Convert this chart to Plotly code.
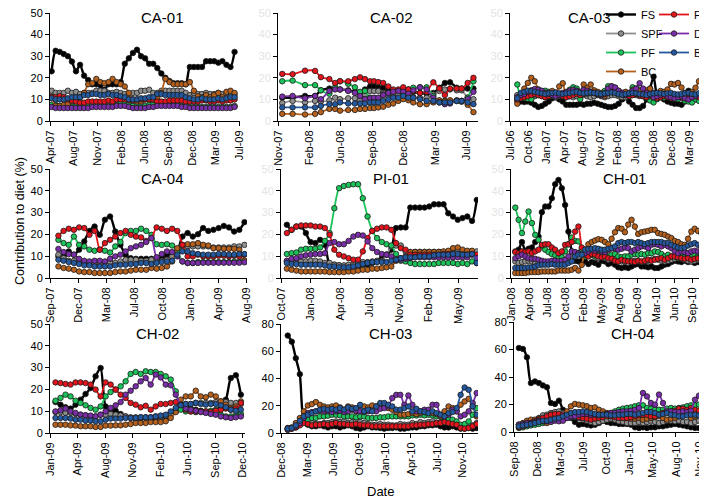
import pandas as pd
import plotly.graph_objects as go

W, H = 707, 501
FONT = "Liberation Sans, Arial, sans-serif"

SERIES_ORDER = ["FS", "SPF", "PF", "BC", "PC", "DF", "BF"]
COLORS = {"FS": "#000000", "SPF": "#8f8f8f", "PF": "#1cc35a", "BC": "#b5601c",
          "PC": "#e3141c", "DF": "#7a2fa8", "BF": "#2459a0"}
LEGEND_GROUP = {"FS": "g1", "SPF": "g1", "PF": "g1", "BC": "g1",
                "PC": "g2", "DF": "g2", "BF": "g2"}

# ---------------- CA-01 ----------------
ca01_ticks = ["Apr-07", "Aug-07", "Nov-07", "Feb-08", "Jun-08", "Sep-08", "Dec-08", "Mar-09", "Jul-09"]
ca01_tick_span = ("2007-04-01", "2009-07-15")
ca01_dates = ("2007-04-08", "2009-06-23")
ca01_FS = [23,32.5,32,31,30,27.5,23,26,21,19,17,17,16.5,14.5,17,17,17,18,26.5,29,31.5,33,30,29,26.5,26.5,24.5,22,20,18.5,17.5,17.5,17.5,17,25,25,25,25,27.7,27.7,27.7,27,27.7,26,25,32]
ca01_BC = [11.3,7,7,7.5,8,9,10,11,13,17,17.5,19.5,18,17.5,18,19.5,18,17,16,13,10,9,9,10,10,10,11,13,19.5,18,17,17,17,17,18,14,11.5,11,12,11,12,13,11,13.5,14,13]
ca01_SPF = [14,13,13,13,14,13,13.5,12.5,13,13,13,14,14,14,13,13,13.5,13,12.5,12.5,13,13,14,14,14.5,13,13,14,14,14,14,14,14,13,12,13,12.5,12.5,13,12.5,12.5,13,12.5,13,13,12]
ca01_BF = [10.5,10,10,10,10.5,11,11,11,12,12,12.5,12.5,12,12,12.5,12,12,11.5,11,10,10,10,10.5,10.5,11,11,12.5,12.5,12,12,12,12,12,11,10.5,10,10,10.5,10,10,10,10.5,10,10.5,11,11]
ca01_PC = [11,11,11.5,11,10,9.5,9,8.5,8.5,9,9,9,9,9,9.5,9,10,10,10,9.5,9.5,10,10,10,10,10,9,9,9,9.5,9.5,9.5,9.5,9,9,9,9,9.5,9.5,9,9,9.5,9,9.5,9.5,10]
ca01_PF = [7.5,7.5,7,7,7,7,7,7,7,7,7.5,7.5,7.5,7,7,7,7.5,8,8,7.5,7,7,7,7,7.5,7.5,8,8,7.5,7.5,7.5,7.5,7,7,6.5,6.5,6.5,6.5,6.5,6.5,6.5,6.5,6.5,6.5,6.5,7]
ca01_DF = [6.5,6,6,6,6,6,6,6,6,6,6.5,6.5,6.5,6.5,6.5,6.5,7,7,7,6.5,6,6,6,6,6.5,6.5,7,7,7,7,7,7,6.5,6.5,6,6,6,6,6,6,6,6,6,6,6,6.5]

# ---------------- CA-02 ----------------
ca02_ticks = ["Nov-07", "Feb-08", "Jun-08", "Sep-08", "Dec-08", "Mar-09", "Jul-09"]
ca02_tick_span = ("2007-11-01", "2009-07-13")
ca02_dates = ["2007-11-15","2007-12-19","2008-01-29","2008-03-02","2008-03-21","2008-04-18","2008-05-07","2008-05-23",
              "2008-06-19","2008-07-11","2008-07-28","2008-08-13","2008-08-30","2008-09-12","2008-09-26","2008-10-12",
              "2008-10-29","2008-11-14","2008-12-01","2008-12-17","2009-01-03","2009-01-19","2009-02-10","2009-03-04",
              "2009-03-26","2009-04-15","2009-05-03","2009-05-20","2009-06-11","2009-06-27","2009-07-17","2009-08-05"]
ca02_PC = [21.8,21.7,23.3,23.2,20.3,19.4,17.6,18.4,18.4,19.4,20.2,19.4,18.4,18.4,18,17.6,16,14.6,14.6,15.6,14.6,13.9,13,13.5,17.9,15,12,15,15,15,17.6,20]
ca02_PF = [18.4,18.7,16.6,16.6,14.2,12.6,15.6,18.4,17.2,15.6,13.5,13.9,10.8,10.5,10.5,12.3,13,13.9,14.2,12.6,13.9,15.4,15.6,15.6,11.6,9.3,9.3,9.3,9.3,8.9,10.8,18.4]
ca02_FS = [10.8,10.8,11.6,11.6,14.2,15,15,14.6,14.2,13.5,13,14.6,16,16,15.6,15.4,14.2,13.9,13.9,14.6,14.6,13.5,13,12.6,13,15.4,17.6,17.9,15.4,15,15,15]
ca02_DF = [11.3,11.6,10.5,11.6,10.1,13.9,14.6,14.6,13.9,13,11.6,10.1,10.5,10.8,10.8,12,13,13.5,13.9,13.5,12.6,14.2,15.6,14.6,10.8,8.6,7.8,8.1,9.3,9.3,10.1,13.5]
ca02_SPF = [8.3,9.3,8.6,9.3,9,9.6,10.8,10.1,10.5,10.5,9.6,12.3,13.9,13.9,13.9,13,11.6,11.6,12.3,12.3,11.6,11.1,10.8,10.8,12.3,13.9,14.6,14.6,14.2,14.2,10.8,10.1]
ca02_BF = [6.3,6.3,6.3,6.3,7,7.8,7.8,8.6,8.1,8.1,8.1,8.1,8.6,8.6,8.6,9.3,10.1,10.8,10.8,11.6,10.8,10.8,10.1,9.3,9.3,8.6,8.6,8.6,9.3,9.3,8.6,7.8]
ca02_BC = [3.3,3.3,3,3.3,4.1,5.6,5.6,4.8,5.1,5.1,5.6,5.6,6,6,6.3,6.6,7.5,8.1,9.3,10.1,9.6,8.6,7.8,7.8,8.6,9.6,9.3,9.6,9.6,9.3,7.5,4.1]

# ---------------- CA-03 ----------------
ca03_ticks = ["Jul-06", "Oct-06", "Jan-07", "Apr-07", "Aug-07", "Nov-07", "Feb-08", "Jun-08", "Sep-08", "Dec-08", "Mar-09", "Jul-09"]
ca03_tick_span = ("2006-07-01", "2009-07-15")
ca03_dates = ("2006-08-11", "2009-07-24")
ca03_FS = [9.3,9,8.8,9,8.5,7.5,6.5,7,8,9,10.5,11,10,9,7.5,7.5,7.5,7.5,8,7.5,8,8,8.5,8,7.5,7,6.5,6.5,7,8,10,11,9,7.5,6,6,7,10,15,20.5,12,11,10,9,8.5,8,8,7.5,9,14,13,10,12,11,12,12]
ca03_BC = [8,11.6,15,17.6,20,18.4,14.6,11.6,11,13,13.9,13,16,17.5,11,12,13.9,13.9,13,16.9,15.4,16.9,14.2,13.5,12.5,11.6,14.6,16.1,15.4,13.9,12.3,13.5,13,14.5,15,13.9,12.3,14.2,15,13,12.3,13.9,13.5,14.6,17.2,16.9,17.6,15.5,13,12.3,13.5,15.4,18.4,17.2,15.4,15]
ca03_PF = [16.9,10.8,10.5,10.3,10.1,12.3,13.9,13.5,14,13.5,11.6,12.3,12,12.5,13,14.5,15.6,15,10.1,13,12.6,13,13.5,12.3,13,13.9,16.1,15.6,14.6,12.3,13,12,11.6,15.6,14.6,14.4,14.2,10.8,9.5,8.6,10.1,12,10.8,13,10.5,10.3,10.1,10.8,9.3,9,8.6,10.1,9.3,10,10.8,11]
ca03_BF = [10.5,13,13.5,14,13.8,13.5,13.2,12.8,12.5,12.8,13,13.2,12.8,12.5,12.8,13,13.3,13.5,13,12.8,13,13.2,13,12.8,12.5,12.8,13,13.2,13,12.5,12.2,12.5,12.8,13,12.8,12.5,12.3,12,12.5,12.8,13,12.8,12.5,12.8,13,12.5,12.3,12.5,12.8,13,12.5,12.3,12.8,13,12.8,13]
ca03_DF = [11,12,12.5,13.5,14.2,14.8,14.5,14,13,12.5,12,11.5,12,13,13.5,14,14.5,14,13.5,14.5,14,13.5,13,12.5,12,13,15,16,15.5,14,13,12,12.5,14,15,17.5,15,13,12,11,11.5,12,12.5,11.5,11,10.5,11,11.5,10.5,10,11,11.5,12,12.5,12,12]
ca03_SPF = [12,12.5,12,11.5,11,11.5,12,12,12.5,12,11.5,11,11.5,12,12,11.5,11,11.5,12,12,11.5,11,11.5,12,11.5,11,11.5,12,12,11.5,11,11,11.5,12,12,11.5,11.5,12,12,11.5,11,11.5,12,11.5,11,11.5,12,11.5,11,11.5,12,11.5,11,11.5,12,12]
ca03_PC = [10,10.5,11,11.5,12,12.5,12,11.5,11,11.5,12,12.5,12,11.5,11,11.5,12,12.5,12,12.5,13,13.5,13,12.5,12,12.5,13,14,14.5,13.5,12.5,12,11.5,12,12.5,12,11.5,11,11.5,11,10.5,11,11.5,11,10.5,11,11.5,11,10.5,10.5,11,11.5,11,11.5,12,12]

# ---------------- CA-04 ----------------
ca04_ticks = ["Sep-07", "Dec-07", "Mar-08", "Jul-08", "Oct-08", "Jan-09", "Apr-09", "Aug-09"]
ca04_tick_span = ("2007-09-01", "2009-08-01")
ca04_dates = ("2007-10-01", "2009-07-26")
ca04_PC = [19.4,21.6,22.6,22.1,23.2,22.9,19.8,21.6,13,16,17.5,19,20.6,21.6,19.8,19,18.6,17,18.3,23.2,22.6,21.6,22.6,21.6,15.2,9.9,9.9,10.7,9.9,9.9,9.9,10.2,10.2,9.9,10.2,9.9,10.7]
ca04_FS = [9.9,9.9,12.2,10.7,13,16.8,21.6,23.6,19.8,26.7,28.2,21.3,15.2,10.7,9.1,8.8,8.8,8.8,8.8,8.8,9.1,10.7,10.7,12.2,19,20.6,19,20.1,22.9,21.6,22.1,22.9,23.9,23.2,21.3,22.1,25.6]
ca04_PF = [17.5,16,15.2,19,15.2,14.5,13,12.5,13,12.5,11.7,14.5,16.5,20.6,21.6,21.6,22.6,21.6,19.8,15.5,15.2,15.5,14.9,12.2,7.6,6.9,6.9,7.3,7.3,7.3,7.3,7.3,7.3,7.3,7.5,7.5,7.8]
ca04_DF = [13.3,11.9,11,10.7,8.8,7.9,7.6,7.9,7.9,7.6,8.8,9.9,10.7,12.2,13.7,14.5,15.2,16.5,18.3,9.5,11,12.2,11.9,9.9,7.6,6.9,6.9,6.9,7,7,7,7,7,7,7,7,7.2]
ca04_SPF = [10.7,9.1,7.9,7.9,7.3,6.9,6.9,6.9,6.9,7.3,7.3,6.9,7.6,8.4,8.4,8.4,7.9,7.9,8.4,7.9,7.9,8.4,9.9,12.2,14.5,14.5,14.5,14.5,14.5,14.5,14,14,14,14,14.5,14.5,15.2]
ca04_BF = [8.4,7.9,7.3,6.9,6.4,5.8,5.8,5.3,5.3,5.3,5.3,5.8,6.1,6.1,6.4,6.4,6.9,6.9,6.4,6.9,7.3,7.6,7.9,10.7,12.2,12.2,11.4,11,10.7,10.7,10.7,11,11,10.7,10.7,11,11]
ca04_BC = [5.3,4.6,4.3,3.8,3,2.7,2.7,2.3,2.3,2.3,2.3,2.7,3,3,3.4,3.8,3.8,3.8,4.6,4.3,4.6,5.3,7.6,13.7,15.2,15.5,15.5,16,15.2,14.9,13.7,13.7,13.4,13.4,13.4,13,8]

# ---------------- PI-01 ----------------
pi01_ticks = ["Oct-07", "Jan-08", "Apr-08", "Jul-08", "Nov-08", "Feb-09", "May-09"]
pi01_tick_span = ("2007-10-01", "2009-04-28")
pi01_dates = ("2007-10-20", "2009-06-27")
pi01_PF = [11,11.4,11.7,13,13.4,13.4,13.4,14,17,20.6,32,41.2,42.2,42.7,43,43,36.6,28.2,21.6,18.3,16.5,15.5,14.9,11,7.9,7.6,6.9,6.4,6.4,6.4,6.4,6.4,6.9,6.9,6.9,6.9,6.4,6.9,6.4,7.6,6.9]
pi01_PC = [20.6,22.1,23.6,24.1,24.1,24.1,23.6,23.6,22.9,19.8,13,10.7,9.9,9.1,8.4,8.4,12.2,18.3,21.6,22.6,23.2,23.2,22.1,16,13.7,13,10.7,10.7,10.7,10.7,10.7,10.7,10.7,11,11,11,10.7,10.7,10.7,11,10.7]
pi01_FS = [24.4,22.1,23.6,23.6,20.6,16.5,16,17.5,15.2,6.1,6.1,5.8,5.3,5.3,5.3,5.3,6.1,6.1,6.9,7.6,9.1,10.7,13,22.9,23.2,23.2,32.3,32.3,32.3,32.3,32.8,33.8,33.8,33.8,29.7,28.2,26.7,27.5,28.2,26.2,35.8]
pi01_DF = [7.9,8.8,9.1,9.9,10.4,10.7,11,11,11.4,16,16.5,15.5,15.5,17,19,19.8,19.5,16.8,13.7,11.9,11,10.7,9.9,8.4,8.4,8.8,9.1,9.5,9.5,9.5,9.5,9.5,9.5,9.5,9.5,9.5,9.5,9.5,9.5,10.7,9.1]
pi01_SPF = [7.6,7.3,7.3,7.6,7.6,7.9,7.9,7.6,6.9,6.9,6.1,5.8,5.8,6.1,6.4,6.9,7.3,7.3,7.6,7.9,7.9,10.7,14.5,14.9,14.9,12.2,11.9,12,12,12,12,12,12,12,12,12,12,12,12,12,12.2]
pi01_BF = [6.9,6.4,6.4,6.1,6.1,6.1,6.1,6.1,5.8,5.3,5.3,4.9,4.9,4.9,5.3,5.8,6.4,6.9,7.3,7.3,7.3,7.3,7.9,8.4,9.1,9.5,9.5,9.5,9.9,9.9,9.9,10.4,10.7,10.7,10.7,11,11,10.7,10.7,11,6.9]
pi01_BC = [4.3,3.8,3.4,3,3,3,3,3,3,2.7,2.7,2.7,2.7,3,3,3.4,3.8,3.8,4.3,4.3,4.6,4.9,5.3,7.9,9.1,9.9,11.9,11.9,11.9,11.9,11.9,11.9,11.9,12.2,12.5,13.7,14,13,12.5,12.5,6.9]

# ---------------- CH-01 ----------------
ch01_ticks = ["Jan-08", "Apr-08", "Jul-08", "Oct-08", "Feb-09", "May-09", "Aug-09", "Dec-09", "Mar-10", "Jun-10", "Sep-10"]
ch01_tick_span = ("2008-01-01", "2010-08-29")
ch01_dates = ("2008-01-24", "2010-12-09")
ch01_PF = [32.3,26.7,20.6,25.9,30.5,25.2,19.8,17.5,14.5,13,11.9,11,10.4,9.1,9.5,12.2,15.5,18.6,17,16.8,13,9.9,10.7,10.7,9.9,10.7,10.4,10.7,9.9,10.7,11,9.9,9.5,9.9,9.9,10.7,11,10.7,11,10.7,11.4,11.4,12.2,11.9,11,9.9,10.7,9.9,9.9,9.1,9.9,9.5,10.7,9.9,10.7,9.9,10.7,9.9,10.4,10.7]
ch01_FS = [12.2,13,16.5,12.5,13.4,14,16.5,19,30.2,32.8,32.8,36.6,43,45,41.2,33.5,21.3,12.2,7.9,7.6,7.9,7.6,6.4,7.3,6.9,6.1,7.9,7.6,6.4,6.9,6.1,4.9,4.6,4.9,4.6,5.3,6.1,6.4,5.3,5.3,4.9,5.3,4.6,4.6,5.3,6.1,6.4,7.3,7.9,7.6,7.3,7.9,7.3,7.6,6.9,7.3,6.9,7.6,7.3,7.6]
ch01_PC = [11.9,11.4,12.2,11.9,12.2,11.4,12.2,13,15.2,15.5,15.5,14,13,11.4,12.2,15.2,15.5,16.5,21.3,23.6,14,10.7,9.9,11,10.7,9.9,9.5,9.9,9.1,8.8,7.9,7.6,8.4,7.9,7.6,7.6,7.3,7.9,7.6,7.9,8.4,7.9,8.4,8.8,9.1,8.4,9.1,9.9,9.9,9.5,9.1,8.8,9.1,8.4,8.8,9.1,9.5,9.1,9.9,9.5]
ch01_DF = [9.1,9.9,10.7,9.9,9.1,8.8,8.8,8.4,7.9,7.6,7.6,7.9,7.9,7.6,7.9,8.4,9.9,12.2,11.9,11.4,10.7,11.4,12.2,13,12.5,13,12.2,11.9,13,13.7,13.4,13,13.4,14,13.7,12.2,13,13.7,14.5,14.5,13.7,15.2,15.5,15.2,14.5,15.2,14.5,13.7,12.2,11.4,12.2,11.9,11.4,12.2,12.5,12.2,11.9,12.2,12.5,12.2]
ch01_BF = [4.6,4.6,4.6,4.6,4.9,4.9,5.3,5.8,6.1,6.1,6.1,6.4,6.1,6.1,6.1,6.1,6.9,7.6,9.9,10.7,10.7,13,13.3,13.4,13.7,13.4,13,13,13.4,13.7,14.5,16,16.5,16,16.5,16.5,16,16.5,16,15.5,16,16.5,16.5,16.5,16.5,16,16,15.2,14.5,14,13.7,14,14.9,15.5,16,15.2,14.5,14,14.5,14.9]
ch01_SPF = [7.6,6.9,7.3,7.6,7.9,7.6,6.9,6.9,7.3,6.9,6.9,7.3,7.3,7.3,7.6,7.9,8.4,9.9,10.7,11.4,12.2,12.2,11.4,10.7,9.9,9.1,9.9,9.1,8.4,9.1,7.9,8.4,7.6,7.3,7.9,7.6,7.9,7.6,7.3,7.6,7.9,8.4,8.8,8.4,7.9,7.6,7.9,8.4,8.8,9.1,8.8,8.4,7.9,7.6,7.9,8.4,7.9,8.4,8.8,8.4]
ch01_BC = [2.3,2.3,2.3,2.3,2.6,2.7,2.7,2.7,3,3,3,3,3,3.4,3.4,3.4,3.4,3.8,4.6,3.4,6,13,15.5,16.5,17.2,17.8,17.5,16.5,15.5,18,21,22.9,22.6,21,24.5,26.7,23.6,20.2,21,21.3,21.6,22.1,22.1,20.6,20.2,19.8,19,18.3,17,16.5,15.5,15.2,18,21.3,22.6,21.6,20.6,20.6,20,19.8]

# ---------------- CH-02 ----------------
ch02_ticks = ["Jan-09", "Apr-09", "Aug-09", "Nov-09", "Feb-10", "Jun-10", "Sep-10", "Dec-10"]
ch02_tick_span = ("2009-01-01", "2010-12-01")
ch02_dates = ("2009-01-21", "2010-11-25")
ch02_PC = [23.2,22.9,22.5,22.2,23.2,23.2,22.9,22.2,19.9,16.8,23.2,22.2,19.9,17.6,16.1,13.8,13,11.8,12.5,10.7,12.2,13.3,13.3,13.8,14.2,13,10.7,9.9,9.9,9.9,9.9,9.6,10.2,10.7,11.2,10.7,11.2,13.8]
ch02_FS = [14.2,13,11.8,11.2,13,15.3,17.9,20.6,26,29.8,12.2,10.7,10.2,8.7,7.6,6.9,6.6,6.6,6.9,6.6,6.9,7.2,7.6,8.4,9.9,11.5,12.2,11.2,10.7,10.2,9.6,9.2,8.7,13,15.3,25.2,26.5,17.6]
ch02_PF = [14.8,16.1,17.6,16.8,14.8,13.8,12.7,11.5,10.7,12.2,16.8,18.8,19.9,21.4,23.7,27.1,28,27.1,28.3,28,28,27.1,26,24.5,19.1,10.7,9.9,9.9,9.6,9.9,9.9,10.2,10.7,8.4,7.6,7.6,8.1,8.7]
ch02_DF = [9.9,10.4,11.2,9.9,9.2,8.4,8.1,8,7.6,8.4,9.9,11.5,12.7,14.2,17.6,19.4,21.4,23.7,25.2,22.2,26.8,25.5,22.2,21.9,17.6,13,11.2,10.7,10.2,9.6,9.2,8.7,8.4,7.6,7.2,6.9,7.2,7.6]
ch02_SPF = [9.6,9.6,9.2,9.2,8.7,8.4,8.1,7.6,7.6,8.4,8.4,8.7,8.4,8,7.6,7.2,7.2,7.2,7.2,7.2,7.6,7.6,8,8.4,10.7,12.7,13.3,13.3,13.8,13.8,13.8,13.8,14.2,14.5,14.2,13.8,13.8,13.3]
ch02_BF = [6.9,6.9,6.9,6.6,6.1,6.1,5.7,5.7,5.4,5.4,6.1,6.6,6.6,6.6,6.9,6.9,6.9,7.2,7.2,7.2,7.6,8,8.4,9.9,11.5,12.7,13.3,13.3,13.8,13.3,13,13.3,13.3,12.7,11.8,10.7,10.2,10.7]
ch02_BC = [3.8,3.8,3.8,3.5,3.4,3.1,3.1,3.1,2.8,2.8,3.4,3.4,3.5,3.5,3.8,4.1,4.6,4.6,4.6,5,5,5,5.4,6.9,9.6,15.3,16.8,16.8,19.4,16.8,16.4,17.6,16.8,14.5,13,11.5,12.2,14.5]

# ---------------- CH-03 ----------------
ch03_ticks = ["Dec-08", "Mar-09", "Jun-09", "Oct-09", "Jan-10", "Apr-10", "Jul-10", "Nov-10"]
ch03_tick_span = ("2008-12-01", "2010-11-01")
ch03_dates = ("2008-12-27", "2010-12-24")
ch03_FS = [71.5,67,54.9,43.2,8.5,6.1,4.9,4.9,5.6,4.9,4.1,4.9,4.9,4.1,4.9,5.6,4.9,3.7,3.2,4.1,4.9,4.1,4.1,3.7,3.2,3.7,3.7,4.1,3.2,3.2,3.7,4.1,4.1,4.9,4.9,5.6,5.6,6.1,4.9,4.1,4.1,4.9,4.1,3.2,3.2,3.7,3.2,3.7]
ch03_BC = [3.7,4.1,7.3,11,15.9,20.2,21.2,22.7,20.7,19.5,18.8,19.5,20.2,18.8,17.1,19.5,18.8,15.9,17.1,19.5,18.8,20.2,19.5,20.7,19.5,18.3,17.1,15.4,13.4,13.4,13.9,14.6,13.9,14.6,15.4,15.9,14.6,13.9,12.2,15.9,19.5,18.3,15.9,20.7,23.2,25.1,19.5,12.2]
ch03_BF = [3.2,3.7,5.6,9,12.2,13.4,14.6,15.9,17.1,17.8,17.1,17.8,17.1,18.3,17.1,18.8,17.8,18.3,20.7,15.9,17.1,15.9,19.5,22,22,20.7,19.5,17.1,17.1,18.3,19.5,15.9,17.8,15.9,15.4,14.6,15.9,14.6,13.4,12.2,14.6,15.4,18.3,28,33.4,31.7,19.5,13.4]
ch03_DF = [3.2,3.7,4.9,7.3,11,14.6,15.4,15.9,16.3,15.9,15.9,15.4,15.9,16.3,15.4,15.9,17.1,16.3,15.9,15.4,15.9,16.3,15.9,17.8,18.3,19.5,25.6,28,28,20.7,27.6,20.7,15.9,15.9,17.1,17.1,20.7,20.7,13.4,12.2,13.4,17.1,15.9,12.2,13.4,15.9,22,29.3]
ch03_PF = [3.2,3.7,4.9,7.3,8.5,9.8,11,11,12.2,12.2,12.7,13.4,13.4,12.9,12.2,12.2,12.2,11.5,12.2,12.2,11,11,11,11.5,11.5,12.2,12.2,12.2,12.2,12.2,12.2,12.9,12.9,13.4,12.9,13.4,12.9,12.2,12.2,11,10.5,9.8,8.5,6.1,6.6,8.5,13.4,18.3]
ch03_SPF = [2.4,3.2,4.1,6.1,8,7.3,7.3,6.6,6.6,7.3,7.3,8,8.5,8,8.5,7.3,8,9,8,7.3,6.6,6.1,6.1,6.6,6.1,6.1,5.6,5.6,6.6,6.1,6.1,7.3,6.6,8,7.3,8,8.5,7.3,8,9,8.5,7.3,6.6,4.1,3.7,4.1,5.6,7.3]
ch03_PC = [2.4,3.2,4.1,5.6,7.3,6.6,5.6,6.1,6.1,6.6,6.1,6.6,7.3,6.6,6.6,6.1,6.1,6.6,6.1,5.6,5.6,4.9,4.9,4.9,4.9,4.9,4.9,4.9,4.9,4.9,4.9,5.6,5.6,6.1,6.1,6.6,6.6,7.3,7.3,8,7.3,6.6,6.1,3.7,3.2,3.7,4.9,6.6]

# ---------------- CH-04 ----------------
ch04_ticks = ["Sep-08", "Dec-08", "Mar-09", "Jul-09", "Oct-09", "Jan-10", "May-10", "Aug-10", "Nov-10"]
ch04_tick_span = ("2008-09-01", "2010-11-01")
ch04_dates = ("2008-09-22", "2011-01-08")
ch04_FS = [61.1,60.4,54.3,35.6,36.8,35.6,33.9,32.5,21.1,20.4,22.8,16.2,12.6,10.2,7.3,5.3,5.8,5.3,4.8,5.3,6.5,8.2,7.3,6.5,6.5,5.8,5.8,5.8,5.3,3.4,2.9,3.4,2.9,3.4,3.4,4.1,4.1,4.8,5.3,5.8,5.3,4.8,4.1,3.4,2.9,2.9,2.4,2.9,2.4,2.9]
ch04_PF = [2.9,3.4,4.1,4.8,5.3,5.8,6.5,7.3,8.2,9,9.7,10.2,10.2,10.7,10.7,11.2,11.4,11.4,11.4,11.9,12.6,13.1,13.1,13.8,15,16.2,17,17.5,17.9,18.7,19.4,19.4,17.5,17,16.2,16.2,16.2,17,17.5,17,17.5,17.9,18.7,19.4,19.4,19.9,20.4,19.9,20.4,21.1]
ch04_DF = [5.3,5.8,6.5,6.5,7.3,8.2,7.8,7.8,7.3,8.2,7.8,8.2,10.2,11.4,11.4,12.6,13.1,13.1,12.6,12.6,12.1,12.6,13.1,13.8,13.8,14.5,15,15,15.5,16.2,17.5,28.4,25.9,21.1,19.9,27.2,21.1,15,15,14.5,14.5,15,14.5,15.5,23.5,26.4,24.7,21.8,19.9,21.1]
ch04_BC = [5.3,6.5,8.2,9,9,9.7,7.8,6.5,12.6,11.4,12.6,11.4,15,18.7,20.4,19.9,19.4,18.7,17.5,17.9,16.2,15,13.8,13.1,12.6,12.1,11.4,10.2,9.7,9.7,10.2,9,9.7,10.2,10.7,11.4,10.2,9,9.7,10.2,11.4,12.6,12.6,10.2,11.4,12.6,13.1,12.1,11.4,10.7]
ch04_BF = [4.1,4.8,5.3,5.8,6.5,7.3,8.2,8.2,9,9.7,10.2,11.4,12.6,13.8,14.5,14.5,15,14.5,13.8,13.1,12.6,12.6,12.6,12.1,12.1,12.6,12.6,13.1,13.1,12.6,13.1,13.8,14.5,14.5,13.8,12.6,13.1,13.8,12.6,12.1,11.4,11.4,12.1,12.6,12.6,12.1,12.6,13.1,12.6,12.6]
ch04_PC = [3.4,4.1,5.3,6.5,7.8,9,10.2,11.4,12.6,13.1,13.1,12.6,11.4,11.4,11.4,10.7,10.2,9.7,9,9.7,10.2,10.7,11.4,11.4,10.7,10.2,10.2,10.2,10.7,11.4,12.1,12.6,12.6,11.4,11.4,12.6,13.8,14.5,15,15.5,17,17,16.2,17.5,16.2,15.5,15,14.5,15,14.5]
ch04_SPF = [5.3,5.8,6.5,7.3,8.2,10.2,12.1,12.6,13.8,14.5,15,13.8,12.6,12.1,11.4,10.2,9,8.2,7.3,6.5,7.3,8.2,9,9.7,9,7.8,7.3,6.5,6.5,6.5,7.3,6.5,7.3,8.2,7.3,6.5,7.3,8.2,8.2,7.8,8.2,7.3,7.3,6.5,7.3,8.2,9,8.2,7.8,8.2]

FAINT = "#e4e4e4"
# pixel geometry (figure coordinates; the page adds an 8px body margin)
panels = [
    dict(name="CA-01", ticks=ca01_ticks, span=ca01_tick_span, end="2009-07-17", dates=ca01_dates,
         vals=dict(FS=ca01_FS, SPF=ca01_SPF, PF=ca01_PF, BC=ca01_BC, PC=ca01_PC, DF=ca01_DF, BF=ca01_BF),
         ymax=50, dt=10, px=(42, 232), py=(5, 113), title=(154, 10), ycol="#000"),
    dict(name="CA-02", ticks=ca02_ticks, span=ca02_tick_span, end="2009-08-20", dates=ca02_dates,
         vals=dict(FS=ca02_FS, SPF=ca02_SPF, PF=ca02_PF, BC=ca02_BC, PC=ca02_PC, DF=ca02_DF, BF=ca02_BF),
         ymax=50, dt=10, px=(270, 470), py=(5, 113), title=(383, 10), ycol=FAINT),
    dict(name="CA-03", ticks=ca03_ticks, span=ca03_tick_span, end="2009-08-24", dates=ca03_dates,
         vals=dict(FS=ca03_FS, SPF=ca03_SPF, PF=ca03_PF, BC=ca03_BC, PC=ca03_PC, DF=ca03_DF, BF=ca03_BF),
         ymax=50, dt=10, px=(502, 707), py=(5, 113), title=(581, 10), ycol=FAINT),
    dict(name="CA-04", ticks=ca04_ticks, span=ca04_tick_span, end="2009-08-04", dates=ca04_dates,
         vals=dict(FS=ca04_FS, SPF=ca04_SPF, PF=ca04_PF, BC=ca04_BC, PC=ca04_PC, DF=ca04_DF, BF=ca04_BF),
         ymax=50, dt=10, px=(42, 239), py=(161, 270), title=(154, 170), ycol="#000"),
    dict(name="PI-01", ticks=pi01_ticks, span=pi01_tick_span, end="2009-07-01", dates=pi01_dates,
         vals=dict(FS=pi01_FS, SPF=pi01_SPF, PF=pi01_PF, BC=pi01_BC, PC=pi01_PC, DF=pi01_DF, BF=pi01_BF),
         ymax=50, dt=10, px=(273, 470), py=(161, 270), title=(383, 170), ycol=FAINT),
    dict(name="CH-01", ticks=ch01_ticks, span=ch01_tick_span, end="2010-12-29", dates=ch01_dates,
         vals=dict(FS=ch01_FS, SPF=ch01_SPF, PF=ch01_PF, BC=ch01_BC, PC=ch01_PC, DF=ch01_DF, BF=ch01_BF),
         ymax=50, dt=10, px=(503, 707), py=(161, 270), title=(616, 170), ycol=FAINT),
    dict(name="CH-02", ticks=ch02_ticks, span=ch02_tick_span, end="2010-12-10", dates=ch02_dates,
         vals=dict(FS=ch02_FS, SPF=ch02_SPF, PF=ch02_PF, BC=ch02_BC, PC=ch02_PC, DF=ch02_DF, BF=ch02_BF),
         ymax=50, dt=10, px=(42, 237), py=(316, 425), title=(149, 325), ycol="#000"),
    dict(name="CH-03", ticks=ch03_ticks, span=ch03_tick_span, end="2010-12-29", dates=ch03_dates,
         vals=dict(FS=ch03_FS, SPF=ch03_SPF, PF=ch03_PF, BC=ch03_BC, PC=ch03_PC, DF=ch03_DF, BF=ch03_BF),
         ymax=80, dt=20, px=(273, 470), py=(316, 425), title=(382, 325), ycol="#000"),
    dict(name="CH-04", ticks=ch04_ticks, span=ch04_tick_span, end="2011-01-08", dates=ch04_dates,
         vals=dict(FS=ch04_FS, SPF=ch04_SPF, PF=ch04_PF, BC=ch04_BC, PC=ch04_PC, DF=ch04_DF, BF=ch04_BF),
         ymax=80, dt=20, px=(506, 707), py=(314, 424), title=(624, 325), ycol="#000"),
]

fig = go.Figure()
layout = {}
annotations = []
for i, p in enumerate(panels, start=1):
    sfx = "" if i == 1 else str(i)
    n = len(p["vals"]["FS"])
    if isinstance(p["dates"], tuple):
        dates = pd.date_range(p["dates"][0], p["dates"][1], periods=n)
    else:
        dates = pd.to_datetime(p["dates"])
    for s in SERIES_ORDER:
        v = p["vals"][s]
        if len(v) != len(dates):
            raise ValueError(f"{p['name']} {s}: {len(v)} values vs {len(dates)} dates")
        fig.add_trace(go.Scatter(
            x=dates, y=v, mode="lines+markers", name=s,
            legendgroup=LEGEND_GROUP[s], showlegend=(i == 1),
            line=dict(color=COLORS[s], width=2.4 if s == "FS" else 1.8, shape="spline", smoothing=0.7),
            marker=dict(size=5.5, color=COLORS[s], line=dict(color="#1a1a1a", width=0.8)),
            xaxis="x" + sfx, yaxis="y" + sfx, cliponaxis=True,
        ))
    tickvals = pd.date_range(p["span"][0], p["span"][1], periods=len(p["ticks"]))
    layout["xaxis" + sfx] = dict(
        domain=[p["px"][0] / W, p["px"][1] / W], anchor="y" + sfx, type="date",
        range=[p["span"][0], p["end"]], tickmode="array", tickvals=list(tickvals), ticktext=p["ticks"],
        tickangle=-90, ticks="outside", ticklen=4, tickcolor="#000", showline=True, linecolor="#000",
        linewidth=1, showgrid=False, zeroline=False, ticklabeloverflow="allow",
        tickfont=dict(size=11, color="#000", family=FONT))
    layout["yaxis" + sfx] = dict(
        domain=[1 - p["py"][1] / H, 1 - p["py"][0] / H], anchor="x" + sfx,
        range=[0, p["ymax"]], tickmode="linear", tick0=0, dtick=p["dt"],
        ticks="outside", ticklen=4, tickcolor="#000", showline=True, linecolor="#000",
        linewidth=1, showgrid=False, zeroline=False, ticklabeloverflow="allow",
        tickfont=dict(size=11, color=p["ycol"], family=FONT))
    annotations.append(dict(text=p["name"], x=p["title"][0] / W, y=1 - p["title"][1] / H,
                            xref="paper", yref="paper", showarrow=False, xanchor="center", yanchor="middle",
                            font=dict(size=15, color="#000", family=FONT)))

annotations.append(dict(text="Contribution to diet (%)", x=12 / W, y=1 - 213 / H, xref="paper", yref="paper",
                        showarrow=False, textangle=-90, xanchor="center", yanchor="middle",
                        font=dict(size=12.5, color="#000", family=FONT)))
annotations.append(dict(text="Date", x=372 / W, y=1 - 483 / H, xref="paper", yref="paper",
                        showarrow=False, xanchor="center", yanchor="middle",
                        font=dict(size=13, color="#000", family=FONT)))

fig.update_layout(
    width=W, height=H, margin=dict(l=0, r=0, t=0, b=0, autoexpand=False),
    paper_bgcolor="white", plot_bgcolor="white",
    font=dict(family=FONT, color="#000"),
    annotations=annotations,
    legend=dict(orientation="h", traceorder="grouped", tracegroupgap=0, entrywidth=8,
                x=(W - 8) / W, y=1 + 8 / H, xanchor="right", yanchor="top",
                font=dict(size=11, family=FONT, color="#000"), bgcolor="rgba(0,0,0,0)",
                itemwidth=30),
    **layout,
)

fig.write_html("out.html")
